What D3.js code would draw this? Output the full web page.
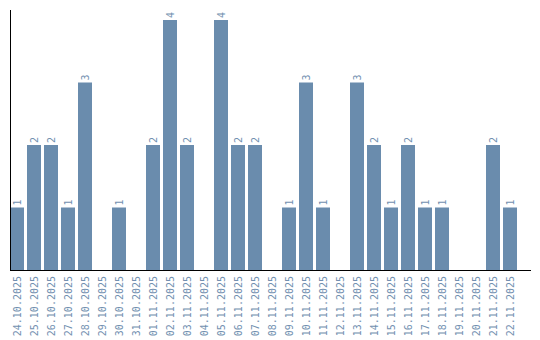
<!DOCTYPE html>
<html>
<head>
<meta charset="utf-8">
<script src="https://cdn.jsdelivr.net/npm/d3@7"></script>
<style>
  body { margin: 0; background: #fff; }
  svg { display: block; }
</style>
</head>
<body>
<svg id="chart" width="540" height="340"></svg>
<script>
// days shown on the x axis
const days = [
    '24.10.2025', '25.10.2025', '26.10.2025', '27.10.2025', '28.10.2025',
    '29.10.2025', '30.10.2025', '31.10.2025', '01.11.2025', '02.11.2025',
    '03.11.2025', '04.11.2025', '05.11.2025', '06.11.2025', '07.11.2025',
    '08.11.2025', '09.11.2025', '10.11.2025', '11.11.2025', '12.11.2025',
    '13.11.2025', '14.11.2025', '15.11.2025', '16.11.2025', '17.11.2025',
    '18.11.2025', '19.11.2025', '20.11.2025', '21.11.2025', '22.11.2025'
];

// count per day
const counts = [
    1, 2, 2, 1, 3, 0, 1, 0, 2, 4,
    2, 0, 4, 2, 2, 0, 1, 3, 1, 0,
    3, 2, 1, 2, 1, 1, 0, 0, 2, 1
];

const barColor = '#6a8cad';
const textColor = '#7290b0';
const font = '"DejaVu Sans Mono", monospace';

const svg = d3.select('#chart');

const x = d3.scaleBand()
    .domain(days)
    .range([10, 517])
    .paddingInner(3 / 17)
    .paddingOuter(0);

const y = d3.scaleLinear()
    .domain([0, 4])
    .range([270, 20]);

const data = days.map((d, i) => ({day: d, value: counts[i]}));

// bars
svg.append('g')
    .selectAll('rect')
    .data(data.filter(d => d.value > 0))
    .join('rect')
    .attr('x', d => x(d.day))
    .attr('y', d => y(d.value))
    .attr('width', x.bandwidth())
    .attr('height', d => y(0) - y(d.value))
    .attr('fill', barColor);

// value labels, rotated above each bar
svg.append('g')
    .selectAll('text')
    .data(data.filter(d => d.value > 0))
    .join('text')
    .attr('transform', d => `translate(${x(d.day) + x.bandwidth() / 2 + 4},${y(d.value) - 2}) rotate(-90)`)
    .attr('fill', textColor)
    .style('font-family', font)
    .style('font-size', '10px')
    .text(d => d.value);

// x axis: category labels only, the line is drawn below
const xAxis = d3.axisBottom(x).tickSize(0).tickPadding(0);
const gx = svg.append('g')
    .attr('transform', `translate(0,${y(0)})`)
    .call(xAxis);
gx.select('.domain').remove();
gx.selectAll('text')
    .attr('fill', textColor)
    .style('font-family', font)
    .style('font-size', '10px')
    .attr('text-anchor', 'end')
    .attr('dy', null)
    .attr('y', 0)
    .attr('transform', 'translate(4,6) rotate(-90)');

// axis lines
svg.append('line')
    .attr('x1', 10.5).attr('x2', 10.5)
    .attr('y1', 10).attr('y2', y(0))
    .attr('stroke', '#000');
svg.append('line')
    .attr('x1', 10).attr('x2', 531)
    .attr('y1', y(0) + 0.5).attr('y2', y(0) + 0.5)
    .attr('stroke', '#000');
</script>
</body>
</html>
